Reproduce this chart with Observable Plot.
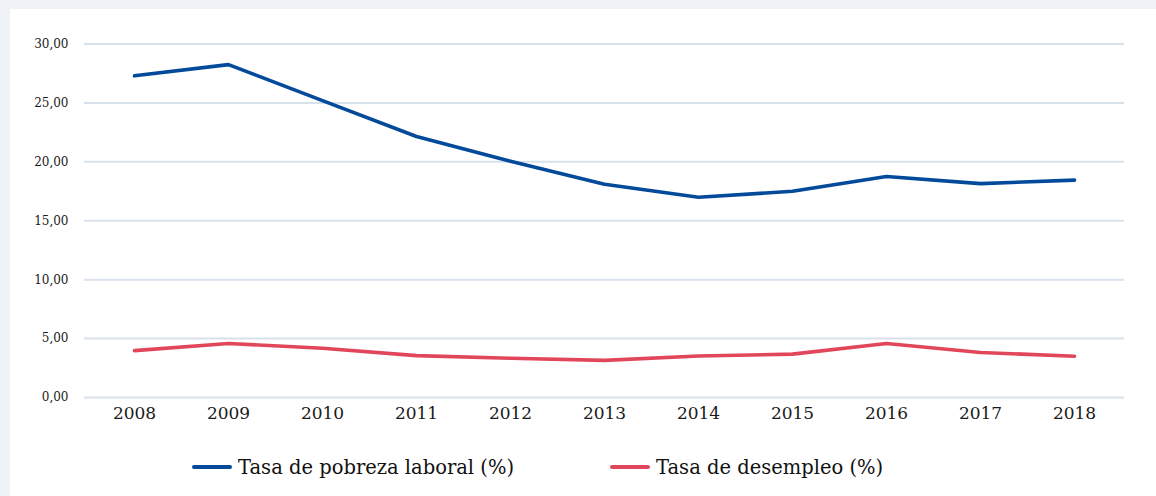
<!DOCTYPE html>
<html>
<head>
<meta charset="utf-8">
<script src="https://cdn.jsdelivr.net/npm/d3@7"></script>
<script src="https://cdn.jsdelivr.net/npm/@observablehq/plot@0.6"></script>
<style>
  html, body { margin: 0; padding: 0; background: #eff3f7; width: 1156px; height: 496px; overflow: hidden; }
  #panel { position: absolute; left: 10px; top: 9px; width: 1146px; height: 487px; background: #fff; }
  #chart { position: absolute; left: 0; top: 0; }
  .legend { position: absolute; top: 438px; left: 0; width: 1146px; height: 40px; font-family: "DejaVu Serif", serif; font-size: 19.5px; color: #111; }
  .item { position: absolute; top: 0; height: 40px; display: flex; align-items: center; white-space: nowrap; }
  .sw { width: 40px; height: 4px; border-radius: 2px; margin-right: 6px; }
</style>
</head>
<body>
<div id="panel"><div id="chart"></div><div class="legend" id="legend"></div></div>
<script>
const years = ["2008","2009","2010","2011","2012","2013","2014","2015","2016","2017","2018"];
const pobreza = [27.3, 28.25, 25.2, 22.15, 20.05, 18.1, 17.0, 17.5, 18.75, 18.15, 18.45];
const desempleo = [3.98, 4.58, 4.18, 3.55, 3.33, 3.15, 3.52, 3.68, 4.58, 3.82, 3.5];
const seriesNames = ["Tasa de pobreza laboral (%)", "Tasa de desempleo (%)"];
const seriesColors = ["#034a9b", "#e2465a"];
const yTicks = [0, 5, 10, 15, 20, 25, 30];

const rows = [];
years.forEach((y, i) => {
  rows.push({year: y, value: pobreza[i], series: seriesNames[0]});
  rows.push({year: y, value: desempleo[i], series: seriesNames[1]});
});

const fmt = v => v.toFixed(2).replace(".", ",");

const chart = Plot.plot({
  width: 1146,
  height: 430,
  marginLeft: 74,
  marginRight: 32,
  marginTop: 34.5,
  marginBottom: 42,
  style: { fontFamily: "DejaVu Serif, serif", background: "transparent", overflow: "visible" },
  x: { type: "point", domain: years, padding: 0.5 },
  y: { domain: [0, 30] },
  color: { domain: seriesNames, range: seriesColors },
  marks: [
    Plot.ruleY(yTicks, { stroke: "#d9e2ec", strokeWidth: 2 }),
    Plot.axisY({ ticks: yTicks, tickSize: 0, tickPadding: 16, tickFormat: fmt, fontSize: 12, fill: "#1a1a1a", label: null }),
    Plot.axisX({ tickSize: 0, tickPadding: 9, fontSize: 17, fill: "#1a1a1a", label: null }),
    Plot.line(rows, { x: "year", y: "value", z: "series", stroke: "series", strokeWidth: 3.6, strokeLinejoin: "round", strokeLinecap: "round" })
  ]
});
document.getElementById("chart").appendChild(chart);

const legend = document.getElementById("legend");
const lefts = [182, 600];
seriesNames.forEach((name, i) => {
  const it = document.createElement("div");
  it.className = "item";
  it.style.left = lefts[i] + "px";
  const sw = document.createElement("span");
  sw.className = "sw";
  sw.style.background = seriesColors[i];
  const tx = document.createElement("span");
  tx.textContent = name;
  it.appendChild(sw); it.appendChild(tx);
  legend.appendChild(it);
});
</script>
</body>
</html>
